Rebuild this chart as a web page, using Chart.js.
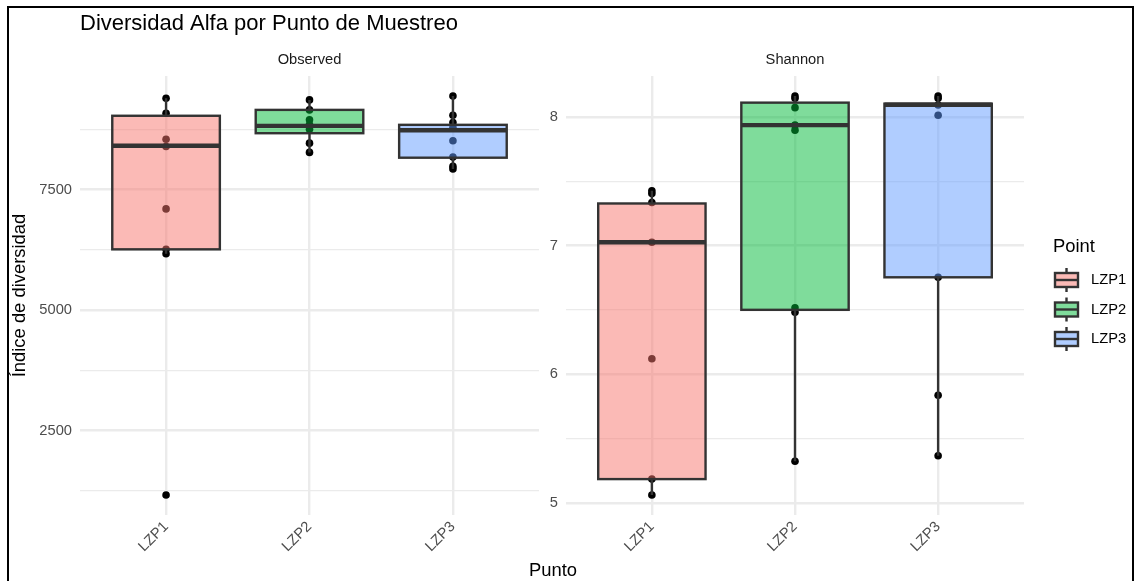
<!DOCTYPE html>
<html>
<head>
<meta charset="utf-8">
<title>Diversidad Alfa por Punto de Muestreo</title>
<script src="https://cdn.jsdelivr.net/npm/chart.js@4.4.0/dist/chart.umd.min.js"></script>
<style>
  html, body { margin: 0; padding: 0; background: #ffffff; }
  #wrap { position: relative; width: 1137px; height: 581px; overflow: hidden; background: #ffffff; }
  #wrap canvas { position: absolute; left: 0; top: 0; }
  #frame { position: absolute; left: 7px; top: 6px; width: 1127px; height: 640px;
           border: 2px solid #000; box-sizing: border-box; pointer-events: none; }
</style>
</head>
<body>
<div id="wrap">
  <canvas id="observed" width="1137" height="581"></canvas>
  <canvas id="shannon" width="1137" height="581"></canvas>
  <div id="frame"></div>
</div>
<script>
// Sampling points and their fill hues
const categories = ['LZP1', 'LZP2', 'LZP3'];
const hueColors = ['#F8766D', '#00BA38', '#619CFF'];

// Observed richness, one value per sample
const observedLZP1 = [9393, 9083, 8545, 8395, 7099, 6260, 6169, 1163];
const observedLZP2 = [9360, 9153, 8946, 8849, 8752, 8463, 8271];
const observedLZP3 = [9442, 9041, 8890, 8787, 8512, 8174, 7981, 7926];

// Observed box statistics (LZP1, LZP2, LZP3)
const observedLow    = [6169, 8271, 7926];
const observedQ1     = [6260, 8669, 8161];
const observedMedian = [8409, 8822, 8731];
const observedQ3     = [9031, 9153, 8843];
const observedHigh   = [9393, 9360, 9442];

// Shannon index, one value per sample
const shannonLZP1 = [7.426, 7.405, 7.335, 7.025, 6.120, 5.184, 5.060];
const shannonLZP2 = [8.163, 8.145, 8.072, 7.936, 7.897, 6.516, 6.482, 5.323];
const shannonLZP3 = [8.163, 8.145, 8.093, 8.013, 6.753, 5.836, 5.365];

// Shannon box statistics (LZP1, LZP2, LZP3)
const shannonLow    = [5.060, 5.323, 5.365];
const shannonQ1     = [5.184, 6.500, 6.753];
const shannonMedian = [7.025, 7.936, 8.095];
const shannonQ3     = [7.327, 8.111, 8.103];
const shannonHigh   = [7.426, 8.163, 8.163];

// Y grid positions and the subset that carries labels
const observedTicks  = [1250, 2500, 3750, 5000, 6250, 7500, 8750];
const observedLabels = [2500, 5000, 7500];
const shannonTicks   = [5, 5.5, 6, 6.5, 7, 7.5, 8];
const shannonLabels  = [5, 6, 7, 8];

const FONT = '"Liberation Sans", Arial, Helvetica, sans-serif';
const OUTLINE = '#333333';
const GRID = '#EBEBEB';

function withAlpha(hex, a) {
  const n = parseInt(hex.slice(1), 16);
  return `rgba(${(n >> 16) & 255}, ${(n >> 8) & 255}, ${n & 255}, ${a})`;
}

// Whiskers, box outline and median drawn on top of the filled boxes
const boxOutline = {
  id: 'boxOutline',
  afterDatasetsDraw(chart, args, o) {
    const { ctx } = chart;
    const ys = chart.scales.y;
    const meta = chart.getDatasetMeta(1);
    ctx.save();
    ctx.strokeStyle = OUTLINE;
    ctx.lineCap = 'butt';
    meta.data.forEach((bar, i) => {
      const { x, width } = bar.getProps(['x', 'width'], true);
      const left = x - width / 2;
      const yLow = ys.getPixelForValue(o.low[i]);
      const yQ1 = ys.getPixelForValue(o.q1[i]);
      const yMed = ys.getPixelForValue(o.median[i]);
      const yQ3 = ys.getPixelForValue(o.q3[i]);
      const yHigh = ys.getPixelForValue(o.high[i]);
      ctx.lineWidth = 2.4;
      ctx.beginPath();
      ctx.moveTo(x, yQ3); ctx.lineTo(x, yHigh);
      ctx.moveTo(x, yQ1); ctx.lineTo(x, yLow);
      ctx.stroke();
      ctx.strokeRect(left, yQ3, width, yQ1 - yQ3);
      ctx.lineWidth = 4.4;
      ctx.beginPath();
      ctx.moveTo(left, yMed); ctx.lineTo(left + width, yMed);
      ctx.stroke();
    });
    ctx.restore();
  }
};

// Titles, facet strips, axis titles and legend
const panelText = {
  id: 'panelText',
  afterDraw(chart, args, o) {
    const { ctx, chartArea } = chart;
    ctx.save();
    ctx.textBaseline = 'middle';
    // facet strip
    ctx.font = `14.7px ${FONT}`;
    ctx.fillStyle = '#1A1A1A';
    ctx.textAlign = 'center';
    ctx.fillText(o.strip, (chartArea.left + chartArea.right) / 2, 60);

    if (o.main) {
      ctx.font = `22px ${FONT}`;
      ctx.fillStyle = '#000000';
      ctx.textAlign = 'left';
      ctx.textBaseline = 'alphabetic';
      ctx.fillText(o.main, 80, 30);
      ctx.textBaseline = 'middle';
    }
    if (o.yTitle) {
      ctx.font = `18.4px ${FONT}`;
      ctx.fillStyle = '#000000';
      ctx.textAlign = 'center';
      ctx.translate(20, (chartArea.top + chartArea.bottom) / 2);
      ctx.rotate(-Math.PI / 2);
      ctx.fillText(o.yTitle, 0, 0);
      ctx.setTransform(1, 0, 0, 1, 0, 0);
    }
    if (o.xTitle) {
      ctx.font = `18.4px ${FONT}`;
      ctx.fillStyle = '#000000';
      ctx.textAlign = 'center';
      ctx.fillText(o.xTitle, 553, 571);
    }
    if (o.legend) {
      ctx.font = `18.4px ${FONT}`;
      ctx.fillStyle = '#000000';
      ctx.textAlign = 'left';
      ctx.fillText(o.legend.title, 1053, 247);
      categories.forEach((name, i) => {
        const cy = 280 + i * 29.5;
        const kx = 1055, kw = 23, kh = 14;
        ctx.strokeStyle = OUTLINE;
        ctx.lineWidth = 2.4;
        ctx.beginPath();
        ctx.moveTo(kx + kw / 2, cy - 12); ctx.lineTo(kx + kw / 2, cy + 12);
        ctx.stroke();
        ctx.fillStyle = '#ffffff';
        ctx.fillRect(kx, cy - kh / 2, kw, kh);
        ctx.fillStyle = withAlpha(hueColors[i], 0.5);
        ctx.fillRect(kx, cy - kh / 2, kw, kh);
        ctx.strokeRect(kx, cy - kh / 2, kw, kh);
        ctx.beginPath();
        ctx.moveTo(kx, cy); ctx.lineTo(kx + kw, cy);
        ctx.stroke();
        ctx.font = `14.7px ${FONT}`;
        ctx.fillStyle = '#000000';
        ctx.fillText(name, 1091, cy);
      });
    }
    ctx.restore();
  }
};

function expandedRange(values) {
  const lo = Math.min(...values), hi = Math.max(...values);
  const pad = (hi - lo) * 0.05;
  return [lo - pad, hi + pad];
}

function buildPanel(id, p) {
  const samples = [];
  p.series.forEach((vals, i) => vals.forEach(v => samples.push({ x: i + 1, y: v })));
  const boxes = categories.map((c, i) => ({ x: i + 1, y: [p.q1[i], p.q3[i]] }));
  const [ymin, ymax] = expandedRange(samples.map(s => s.y));

  return new Chart(document.getElementById(id), {
    type: 'bar',
    data: {
      datasets: [
        {
          type: 'scatter',
          data: samples,
          backgroundColor: '#000000',
          borderWidth: 0,
          pointRadius: 3.8,
          order: 3
        },
        {
          type: 'bar',
          data: boxes,
          backgroundColor: hueColors.map(c => withAlpha(c, 0.5)),
          borderWidth: 0,
          grouped: false,
          categoryPercentage: 1,
          barPercentage: 0.75,
          order: 1
        }
      ]
    },
    options: {
      responsive: false,
      animation: false,
      events: [],
      layout: { padding: { left: p.padLeft, right: p.padRight, top: 76, bottom: 0 } },
      plugins: {
        legend: { display: false },
        tooltip: { enabled: false },
        boxOutline: { low: p.low, q1: p.q1, median: p.median, q3: p.q3, high: p.high },
        panelText: p.text
      },
      scales: {
        x: {
          type: 'linear',
          min: 0.4,
          max: 3.6,
          offset: false,
          afterBuildTicks: s => { s.ticks = categories.map((c, i) => ({ value: i + 1 })); },
          afterFit: s => { s.height = 66; },
          ticks: {
            callback: v => categories[v - 1],
            autoSkip: false,
            minRotation: 45,
            maxRotation: 45,
            padding: 3,
            color: '#4D4D4D',
            font: { family: FONT, size: 14.7 }
          },
          grid: { offset: false, color: GRID, lineWidth: 2.4, drawTicks: false },
          border: { display: false }
        },
        y: {
          type: 'linear',
          min: ymin,
          max: ymax,
          beginAtZero: false,
          afterBuildTicks: s => { s.ticks = p.ticks.map(v => ({ value: v })); },
          afterFit: s => { s.width = p.axisWidth; },
          ticks: {
            callback: v => (p.labels.includes(v) ? String(v) : ''),
            padding: 8,
            color: '#4D4D4D',
            font: { family: FONT, size: 14.7 }
          },
          grid: {
            color: GRID,
            lineWidth: ctx => (p.labels.includes(ctx.tick && ctx.tick.value) ? 2.4 : 1.2),
            drawTicks: false
          },
          border: { display: false }
        }
      }
    },
    plugins: [boxOutline, panelText]
  });
}

buildPanel('observed', {
  series: [observedLZP1, observedLZP2, observedLZP3],
  low: observedLow, q1: observedQ1, median: observedMedian, q3: observedQ3, high: observedHigh,
  ticks: observedTicks, labels: observedLabels,
  padLeft: 0, axisWidth: 80, padRight: 598,
  text: { strip: 'Observed', main: 'Diversidad Alfa por Punto de Muestreo', yTitle: 'Índice de diversidad' }
});

buildPanel('shannon', {
  series: [shannonLZP1, shannonLZP2, shannonLZP3],
  low: shannonLow, q1: shannonQ1, median: shannonMedian, q3: shannonQ3, high: shannonHigh,
  ticks: shannonTicks, labels: shannonLabels,
  padLeft: 545, axisWidth: 21, padRight: 113,
  text: { strip: 'Shannon', xTitle: 'Punto', legend: { title: 'Point' } }
});
</script>
</body>
</html>
